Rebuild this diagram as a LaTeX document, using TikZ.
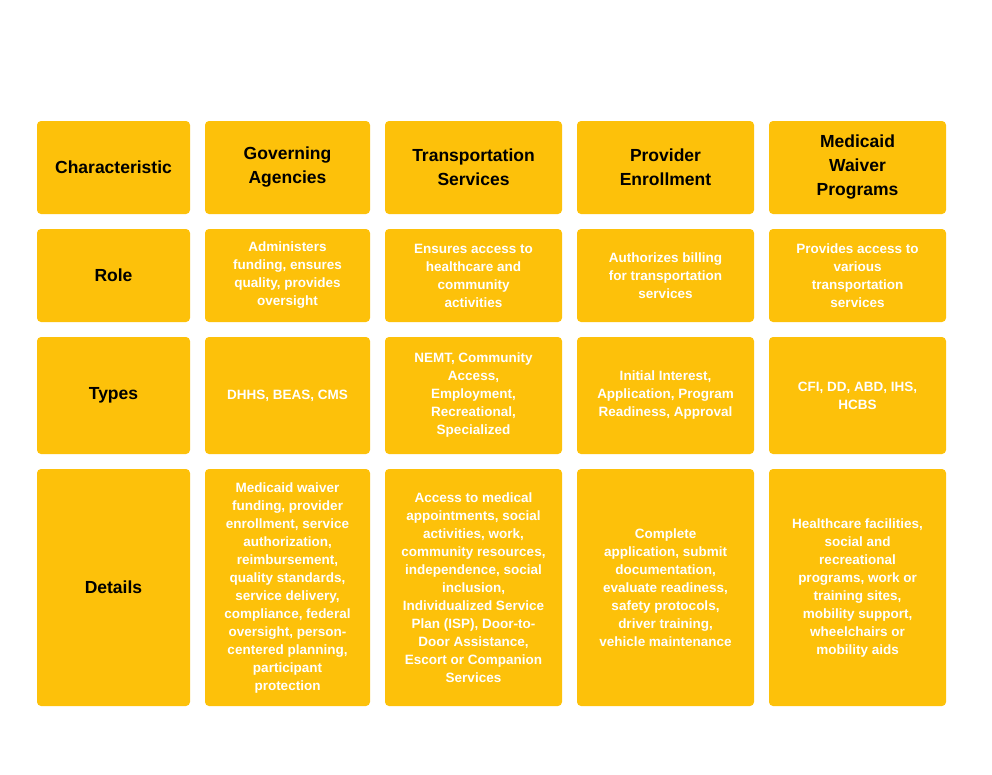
\documentclass[tikz,border=0pt]{standalone}
\usepackage{fontspec}
\setmainfont{Liberation Sans}
\definecolor{cell}{HTML}{FDC10A}
\begin{document}
\begin{tikzpicture}[x=1pt,y=-1pt,
 box/.style={fill=cell,rounded corners=4pt},
 hd/.style={font=\bfseries\fontsize{17.5}{24}\selectfont,align=center,text=black},
 bd/.style={font=\bfseries\fontsize{13.5}{18}\selectfont,align=center,text=white}]
\useasboundingbox (0,0) rectangle (992,774);
\def\xa{37}\def\xb{190}
% columns
\foreach \l/\r [count=\c] in {37/190,205/370,385/562,577/754,769/946}{
 \foreach \t/\b [count=\k] in {121/214,229/322,337/454,469/706}{
  \fill[cell,rounded corners=4pt] (\l,\t) rectangle (\r,\b);
 }}
\node[hd] (h1) at (113.5,167.5) {Characteristic};
\node[hd] (h2) at (287.5,167.5) {Governing\\Agencies};
\node[hd] (h3) at (473.5,167.5) {Transportation\\Services};
\node[hd] (h4) at (665.5,167.5) {Provider\\Enrollment};
\node[hd] (h5) at (857.5,167.5) {Medicaid\\Waiver\\Programs};
\node[hd] (r1) at (113.5,275.5) {Role};
\node[hd] (r2) at (113.5,395.5) {Types};
\node[hd] (r3) at (113.5,587.5) {Details};
\node[bd] (a1) at (287.5,275.5) {Administers\\funding, ensures\\quality, provides\\oversight};
\node[bd] (a2) at (473.5,275.5) {Ensures access to\\healthcare and\\community\\activities};
\node[bd] (a3) at (665.5,275.5) {Authorizes billing\\for transportation\\services};
\node[bd] (a4) at (857.5,275.5) {Provides access to\\various\\transportation\\services};
\node[bd] (b1) at (287.5,395.5) {DHHS, BEAS, CMS};
\node[bd] (b2) at (473.5,395.5) {NEMT, Community\\Access,\\Employment,\\Recreational,\\Specialized};
\node[bd] (b3) at (665.5,395.5) {Initial Interest,\\Application, Program\\Readiness, Approval};
\node[bd] (b4) at (857.5,395.5) {CFI, DD, ABD, IHS,\\HCBS};
\node[bd] (c1) at (287.5,587.5) {Medicaid waiver\\funding, provider\\enrollment, service\\authorization,\\reimbursement,\\quality standards,\\service delivery,\\compliance, federal\\oversight, person-\\centered planning,\\participant\\protection};
\node[bd] (c2) at (473.5,587.5) {Access to medical\\appointments, social\\activities, work,\\community resources,\\independence, social\\inclusion,\\Individualized Service\\Plan (ISP), Door-to-\\Door Assistance,\\Escort or Companion\\Services};
\node[bd] (c3) at (665.5,587.5) {Complete\\application, submit\\documentation,\\evaluate readiness,\\safety protocols,\\driver training,\\vehicle maintenance};
\node[bd] (c4) at (857.5,587.5) {Healthcare facilities,\\social and\\recreational\\programs, work or\\training sites,\\mobility support,\\wheelchairs or\\mobility aids};
\end{tikzpicture}
\end{document}
